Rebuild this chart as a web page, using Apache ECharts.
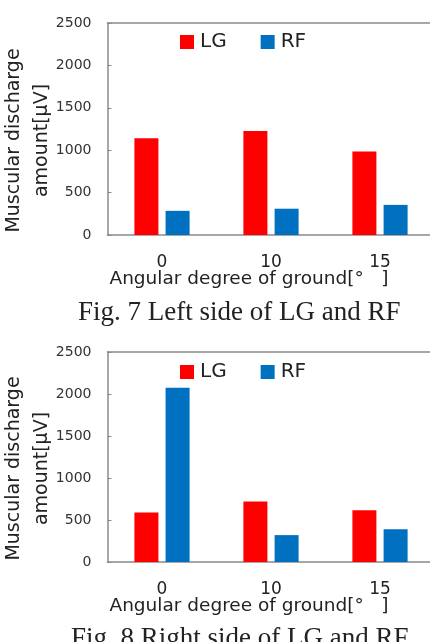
<!DOCTYPE html>
<html>
<head>
<meta charset="utf-8">
<script src="https://cdn.jsdelivr.net/npm/echarts@6/dist/echarts.min.js"></script>
<style>
  html, body { margin: 0; padding: 0; background: #fff; }
  #chart { width: 430px; height: 642px; }
</style>
</head>
<body>
<div id="chart"></div>
<script>
// angles of the ground, shared by both figures
const angles = ['0', '10', '15'];
// Fig. 7 left side
const leftLG = [1140, 1225, 985];
const leftRF = [285, 310, 355];
// Fig. 8 right side
const rightLG = [590, 720, 615];
const rightRF = [2075, 320, 390];
const seriesNames = ['LG', 'RF'];
const captions = ['Fig. 7 Left side of LG and RF', 'Fig. 8 Right side of LG and RF'];

const RED = '#FF0000';
const BLUE = '#0070C0';
const AXIS = '#8a8a8a';
const SANS = 'DejaVu Sans';

const chart = echarts.init(document.getElementById('chart'));

function xAxisFor(gridIndex) {
    return {
        type: 'category',
        gridIndex: gridIndex,
        data: angles,
        axisLine: { lineStyle: { color: AXIS, width: 1.5 } },
        axisTick: { show: false },
        axisLabel: { margin: 19, color: '#222', fontFamily: SANS, fontSize: 17 },
        name: 'Angular degree of ground[°   ]',
        nameLocation: 'middle',
        nameGap: 35,
        nameMoveOverlap: false,
        nameTextStyle: { color: '#222', fontFamily: SANS, fontSize: 18.5, padding: [0, 44, 0, 0] }
    };
}

// plain frame line along the top of the plot
function topAxisFor(gridIndex) {
    return {
        type: 'category',
        gridIndex: gridIndex,
        position: 'top',
        data: angles,
        axisLine: { show: true, lineStyle: { color: AXIS, width: 1.5 } },
        axisTick: { show: false },
        axisLabel: { show: false }
    };
}

function yAxisFor(gridIndex) {
    return {
        type: 'value',
        gridIndex: gridIndex,
        min: 0,
        max: 2500,
        interval: 500,
        axisLine: { show: true, lineStyle: { color: AXIS, width: 1.5 } },
        axisTick: { show: true, inside: true, length: 4, lineStyle: { color: AXIS } },
        splitLine: { show: false },
        axisLabel: { margin: 16, color: '#333', fontFamily: SANS, fontSize: 14, formatter: v => String(v) },
        name: 'Muscular discharge\namount[μV]',
        nameLocation: 'middle',
        nameGap: 51,
        nameMoveOverlap: false,
        nameTextStyle: {
            color: '#222', fontFamily: SANS, fontSize: 19, lineHeight: 28,
            padding: [0, 23, 0, 0]
        }
    };
}

function legendFor(top) {
    return {
        data: seriesNames,
        left: 180,
        top: top,
        padding: 0,
        icon: 'rect',
        itemWidth: 14,
        itemHeight: 14,
        itemGap: 34,
        textStyle: { color: '#222', fontFamily: SANS, fontSize: 20, padding: [0, 0, 0, 1] }
    };
}

function barsFor(gridIndex, lg, rf) {
    return [
        { name: 'LG', type: 'bar', xAxisIndex: gridIndex, yAxisIndex: gridIndex, data: lg,
          barWidth: 24, barGap: '30%', itemStyle: { color: RED } },
        { name: 'RF', type: 'bar', xAxisIndex: gridIndex, yAxisIndex: gridIndex, data: rf,
          barWidth: 24, barGap: '30%', itemStyle: { color: BLUE } }
    ];
}

const option = {
    backgroundColor: '#fff',
    animation: false,
    title: [
        { text: captions[0], left: 78, top: 299, padding: 0,
          textStyle: { color: '#222', fontFamily: 'Liberation Serif', fontSize: 27, fontWeight: 'normal' } },
        { text: captions[1], left: 71, top: 625, padding: 0,
          textStyle: { color: '#222', fontFamily: 'Liberation Serif', fontSize: 27, fontWeight: 'normal' } }
    ],
    legend: [legendFor(32), legendFor(362)],
    grid: [
        { left: 107.5, width: 327, top: 23, height: 212, outerBoundsMode: 'none' },
        { left: 107.5, width: 327, top: 352, height: 210, outerBoundsMode: 'none' }
    ],
    xAxis: [xAxisFor(0), xAxisFor(1), topAxisFor(0), topAxisFor(1)],
    yAxis: [yAxisFor(0), yAxisFor(1)],
    series: barsFor(0, leftLG, leftRF).concat(barsFor(1, rightLG, rightRF))
};

chart.setOption(option);
window.addEventListener('resize', () => chart.resize());
</script>
</body>
</html>
